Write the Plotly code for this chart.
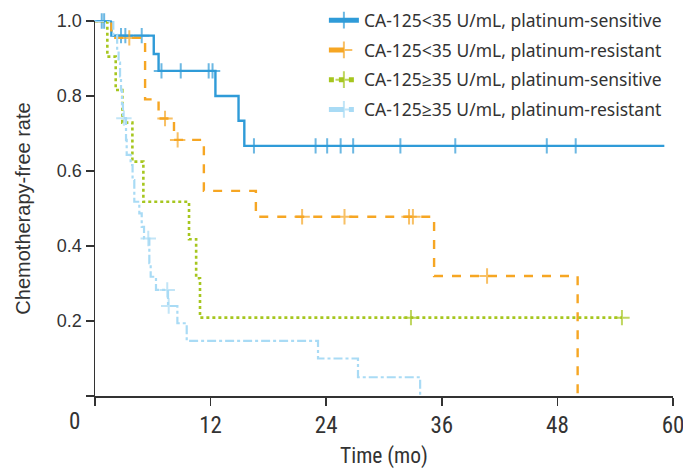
import plotly.graph_objects as go

# ---------------- data ----------------
x_ticks = [0, 12, 24, 36, 48, 60]
y_ticks = [0, 0.2, 0.4, 0.6, 0.8, 1.0]

names = [
    "CA-125<35 U/mL, platinum-sensitive",
    "CA-125<35 U/mL, platinum-resistant",
    "CA-125\u226535 U/mL, platinum-sensitive",
    "CA-125\u226535 U/mL, platinum-resistant",
]

# group 1: CA-125<35, platinum-sensitive
g1_event_t = [1.7, 6.1, 6.6, 12.5, 14.9, 15.5]
g1_event_s = [0.961, 0.912, 0.867, 0.800, 0.734, 0.667]
g1_censor_t = [0.7, 0.95, 2.7, 3.15, 4.85, 6.9, 8.9, 11.8, 12.2, 16.5, 22.9, 24.1,
               25.5, 26.8, 31.7, 37.4, 46.9, 49.9]
g1_end_t = 59.1

# group 2: CA-125<35, platinum-resistant
g2_event_t = [1.7, 5.2, 6.6, 8.2, 11.3, 16.7, 35.2, 50.1]
g2_event_s = [0.955, 0.791, 0.740, 0.683, 0.547, 0.478, 0.320, 0.0]
g2_censor_t = [3.56, 7.27, 8.58, 21.5, 25.9, 32.6, 33.0, 40.7]
g2_end_t = None

# group 3: CA-125>=35, platinum-sensitive
g3_event_t = [1.28, 2.15, 2.84, 3.88, 5.02, 9.76, 10.5, 10.9]
g3_event_s = [0.905, 0.816, 0.729, 0.625, 0.518, 0.418, 0.314, 0.209]
g3_censor_t = [32.8, 54.7]
g3_end_t = None

# group 4: CA-125>=35, platinum-resistant
g4_event_t = [1.9, 2.3, 2.45, 2.6, 2.7, 2.8, 2.9, 3.22, 3.29, 3.7, 3.9, 4.08, 4.6,
              4.85, 5.09, 5.64, 5.78, 6.33, 7.58, 8.55, 9.52, 23.15, 27.3, 33.75]
g4_event_s = [0.963, 0.926, 0.889, 0.852, 0.815, 0.778, 0.741, 0.683, 0.643, 0.616,
              0.576, 0.518, 0.487, 0.451, 0.420, 0.354, 0.318, 0.283, 0.240, 0.194,
              0.147, 0.100, 0.050, 0.0]
g4_censor_t = [3.0, 5.53, 7.5, 7.65]
g4_end_t = None

colors = ["#2f9bd8", "#f6a623", "#a6c61f", "#a9dbf5"]
dashes = ["solid", "dash", "dot", "dashdot"]
widths = [2.4, 2.4, 2.6, 2.2]

groups = [
    (g1_event_t, g1_event_s, g1_censor_t, g1_end_t),
    (g2_event_t, g2_event_s, g2_censor_t, g2_end_t),
    (g3_event_t, g3_event_s, g3_censor_t, g3_end_t),
    (g4_event_t, g4_event_s, g4_censor_t, g4_end_t),
]


def build_steps(ev_t, ev_s, c_t, end_t):
    pts = [(t, "e", s) for t, s in zip(ev_t, ev_s)] + [(t, "c", None) for t in c_t]
    pts.sort(key=lambda p: p[0])
    xs, ys, sz = [0.0], [1.0], [0]
    cur = 1.0
    for t, kind, s in pts:
        if kind == "e":
            cur = s
            xs.append(t); ys.append(cur); sz.append(0)
        else:
            xs.append(t); ys.append(cur); sz.append(11)
    if end_t is not None:
        xs.append(end_t); ys.append(cur); sz.append(0)
    return xs, ys, sz


fig = go.Figure()
for i, (et, es, ct, en) in enumerate(groups):
    xs, ys, sz = build_steps(et, es, ct, en)
    fig.add_trace(go.Scatter(
        x=xs, y=ys, name=names[i], mode="lines+markers",
        line=dict(color=colors[i], width=widths[i], dash=dashes[i], shape="hv"),
        marker=dict(symbol="cross-thin", size=sz, color=colors[i],
                    line=dict(color=colors[i], width=2.0)),
        cliponaxis=False, legendgroup=f"g{i}",
    ))

W, H = 683, 469
ML, MR, MT, MB = 95, 10, 21, 73
PW, PH = W - ML - MR, H - MT - MB

axis_color = "#333333"
narrow = "Liberation Sans Narrow, Roboto Condensed, Arial Narrow, sans-serif"
fig.update_layout(
    width=W, height=H,
    margin=dict(l=ML, r=MR, t=MT, b=MB, autoexpand=False),
    paper_bgcolor="white", plot_bgcolor="white",
    font=dict(family="Liberation Sans, Arial, sans-serif", color="#333333"),
    showlegend=True,
    legend=dict(
        x=0.396, y=1.05, xanchor="left", yanchor="top",
        bgcolor="rgba(0,0,0,0)", traceorder="grouped", tracegroupgap=4,
        font=dict(family="Noto Sans, Open Sans, sans-serif", size=17.5, color="#333333"),
        itemsizing="constant",
    ),
    xaxis=dict(
        range=[0, 60], tickvals=x_ticks,
        ticktext=["" if v == 0 else str(v) for v in x_ticks],
        ticks="outside", ticklen=8, tickwidth=1.5, tickcolor=axis_color,
        showline=True, linecolor=axis_color, linewidth=1.5,
        showgrid=False, zeroline=False, automargin=False,
        ticklabeloverflow="allow",
        tickfont=dict(family=narrow, size=23, color="#333333"),
        title=dict(text="Time (mo)", standoff=11,
                   font=dict(family=narrow, size=21.5, color="#333333")),
    ),
    yaxis=dict(
        range=[0, 1.0], tickvals=y_ticks,
        ticktext=["" if v == 0 else f"{v:.1f}" for v in y_ticks],
        ticks="outside", ticklen=8, tickwidth=1.5, tickcolor=axis_color,
        showline=True, linecolor=axis_color, linewidth=1.5,
        showgrid=False, zeroline=False, automargin=False,
        tickfont=dict(family="Liberation Sans, Arial, sans-serif", size=18, color="#333333"),
        title=dict(text="Chemotherapy-free rate", standoff=21,
                   font=dict(family="Liberation Sans, Arial, sans-serif", size=20,
                             color="#333333")),
    ),
)

fig.add_annotation(
    text="0", x=-21 / PW, y=-25 / PH, xref="paper", yref="paper",
    xanchor="center", yanchor="middle", showarrow=False,
    font=dict(family=narrow, size=23, color="#333333"),
)

fig.write_html(
    "out.html",
    config={"displayModeBar": False, "staticPlot": True},
    post_script="document.body.style.margin='0';document.body.style.overflow='hidden';",
)
